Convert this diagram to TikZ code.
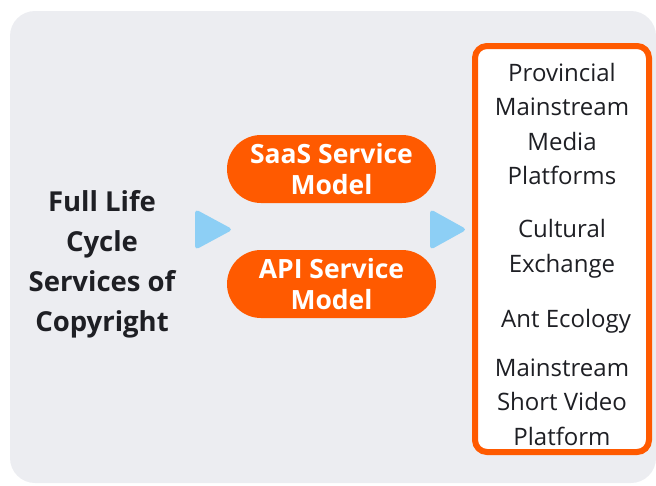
\documentclass[tikz,border=0pt]{standalone}
\usepackage{fontspec}
\setmainfont{Open Sans}
\usetikzlibrary{positioning}
\definecolor{panelgray}{HTML}{ECEDF1}
\definecolor{brandorange}{HTML}{FF5A00}
\definecolor{pointerblue}{HTML}{8DCFF5}
\definecolor{inkdark}{HTML}{1E1F24}

\begin{document}
\begin{tikzpicture}[x=1pt, y=-1pt,
		headline/.style={align=center, text=inkdark, font=\bfseries\fontsize{27.5}{40}\selectfont},
		pill/.style={fill=brandorange, rounded corners=34pt, minimum width=209pt, minimum height=68pt,
			align=center, text=white, font=\bfseries\fontsize{26.5}{31}\selectfont},
		listbox/.style={draw=brandorange, line width=6pt, fill=white, rounded corners=12pt,
			minimum width=174pt, minimum height=406pt},
		entry/.style={align=center, text=inkdark, font=\fontsize{24}{34.5}\selectfont},
		pointer/.style={fill=pointerblue, rounded corners=4pt}]
		%%%%% START %%%%%
		
		\useasboundingbox (0,0) rectangle (656,485);
		\fill[panelgray, rounded corners=25pt] (10,11) rectangle (656,483);
		
		% left title
		\node[headline] (copyright) at (102,264) {Full Life\\Cycle\\Services of\\Copyright};
		
		% service models
		\node[pill] (saas) at (331.5,169) {SaaS Service\\Model};
		\node[pill] (api) at (331.5,284) {API Service\\Model};
		
		% pointers
		\fill[pointer] (195,209) -- (233,229.5) -- (195,250) -- cycle;
		\fill[pointer] (430,209) -- (467,229.5) -- (430,250) -- cycle;
		
		% platforms
		\node[listbox] (targets) at (562,249) {};
		\node[entry] (provincial) at (562,124) {Provincial\\Mainstream\\Media\\Platforms};
		\node[entry] (cultural) at (562,249) {Cultural\\Exchange};
		\node[entry] (ant) at (566,321) {Ant Ecology};
		\node[entry] (shortvideo) at (562,402) {Mainstream\\Short Video\\Platform};
		
		%%%%% END %%%%%
	\end{tikzpicture}
\end{document}
